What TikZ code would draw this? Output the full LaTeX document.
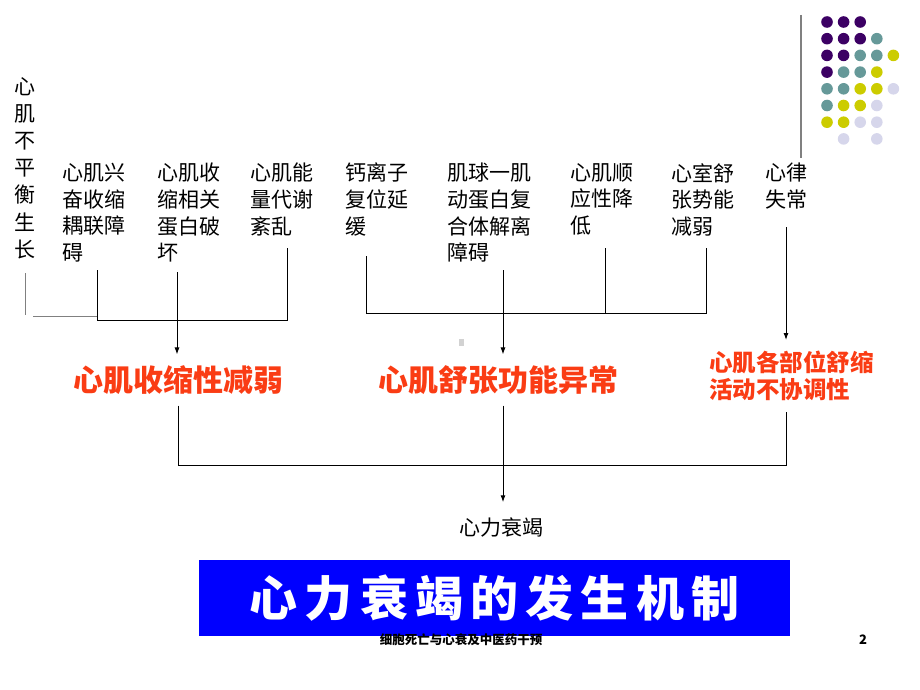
\documentclass[tikz,border=0pt]{standalone}
\usepackage{fontspec}
\setmainfont{Noto Sans CJK SC}
\usetikzlibrary{arrows.meta}
\definecolor{redText}{RGB}{250,60,20}
\definecolor{titleBlue}{RGB}{0,0,255}
\definecolor{dotP}{RGB}{60,0,100}
\definecolor{dotT}{RGB}{102,153,153}
\definecolor{dotY}{RGB}{204,204,0}
\definecolor{dotL}{RGB}{214,214,235}

\begin{document}
\begin{tikzpicture}[x=1pt,y=-1pt,
  cause/.style={inner sep=0pt, anchor=north west, align=left, font=\fontsize{21}{26.7}\selectfont},
  effect/.style={inner sep=0pt, outer sep=11pt, text=redText, font=\bfseries\fontsize{30}{34}\selectfont},
  link/.style={line width=1pt},
  arr/.style={link, -{Latex[length=7pt,width=5pt]}}]
  \useasboundingbox (0,0) rectangle (920,690);

  % causes
  \node[cause, anchor=north, align=center, font=\fontsize{21}{27.2}\selectfont] (c0) at (25,77) {心\\肌\\不\\平\\衡\\生\\长};
  \node[cause] (c1) at (62,163) {心肌兴\\奋收缩\\耦联障\\碍};
  \node[cause] (c2) at (157,163) {心肌收\\缩相关\\蛋白破\\坏};
  \node[cause] (c3) at (250,163) {心肌能\\量代谢\\紊乱};
  \node[cause] (c4) at (345,163) {钙离子\\复位延\\缓};
  \node[cause] (c5) at (447,163) {肌球一肌\\动蛋白复\\合体解离\\障碍};
  \node[cause] (c6) at (570,163) {心肌顺\\应性降\\低};
  \node[cause] (c7) at (671,163) {心室舒\\张势能\\减弱};
  \node[cause] (c8) at (765,163) {心律\\失常};

  % effects
  \node[effect] (r1) at (178,380) {心肌收缩性减弱};
  \node[effect] (r2) at (498,380) {心肌舒张功能异常};
  \node[effect, anchor=north west, align=left, font=\bfseries\fontsize{23.5}{27}\selectfont] (r3) at (698,340) {心肌各部位舒缩\\活动不协调性};
  \node[inner sep=0pt, outer sep=16pt, font=\fontsize{21}{26}\selectfont] (hf) at (501,528) {心力衰竭};

  % line tops
  \coordinate (t0) at (25,273);
  \coordinate (t1) at (97,270);
  \coordinate (t2) at (177,272);
  \coordinate (t3) at (287,248);
  \coordinate (t4) at (366,256);
  \coordinate (t5) at (503,270);
  \coordinate (t6) at (605,248);
  \coordinate (t7) at (706,248);
  \coordinate (t8) at (786,227);

  \draw[link, gray] (t0) -- ++(0,42);
  \draw[link, gray] (33,316) -- (t1 |- 0,316);
  \draw[link] (t1) -- ++(0,50) -| (t3);
  \draw[arr] (t2) -- (t2 |- r1.north);
  \draw[link] (t4) -- ++(0,57) -| (t7);
  \draw[link] (t6) -- (t6 |- 0,313);
  \draw[arr] (t5) -- (t5 |- r2.north);
  \draw[arr] (t8) -- (t8 |- r3.north);
  \fill[gray!35] (459,339) rectangle (464,346);

  \draw[link] (r1.south) -- (r1.south |- 0,465) -| (t8 |- r3.south);
  \draw[arr] (t5 |- r2.south) -- (t5 |- hf.north);

  % title and footer
  \node[fill=titleBlue, minimum width=591pt, minimum height=76pt, inner sep=0pt, text=white,
    font=\bfseries\fontsize{48}{52}\selectfont\addfontfeature{LetterSpace=15}] (title) at (494.5,598) {心力衰竭的发生机制};
  \node[inner sep=0pt, font=\bfseries\fontsize{12.5}{14}\selectfont] (foot) at (461,640) {细胞死亡与心衰及中医药干预};
  \node[inner sep=0pt, font=\bfseries\fontsize{13}{14}\selectfont] (page) at (863,640) {2};

  % corner decoration
  \draw[gray, line width=1.3pt] (801,15) -- (801,158);
  \foreach \cols [count=\r] in {{P,P,P,N,N},{P,P,P,T,N},{P,P,T,T,Y},{P,T,T,Y,N},{T,T,Y,Y,L},{T,Y,Y,L,N},{Y,Y,L,L,N},{N,L,N,L,N}}
  {
    \foreach \c [count=\k] in \cols
    {
      \if\c N\else
        \fill[dot\c] ({827+(\k-1)*16.6},{22+(\r-1)*16.7}) circle (5.8);
      \fi
    }
  }
\end{tikzpicture}
\end{document}
